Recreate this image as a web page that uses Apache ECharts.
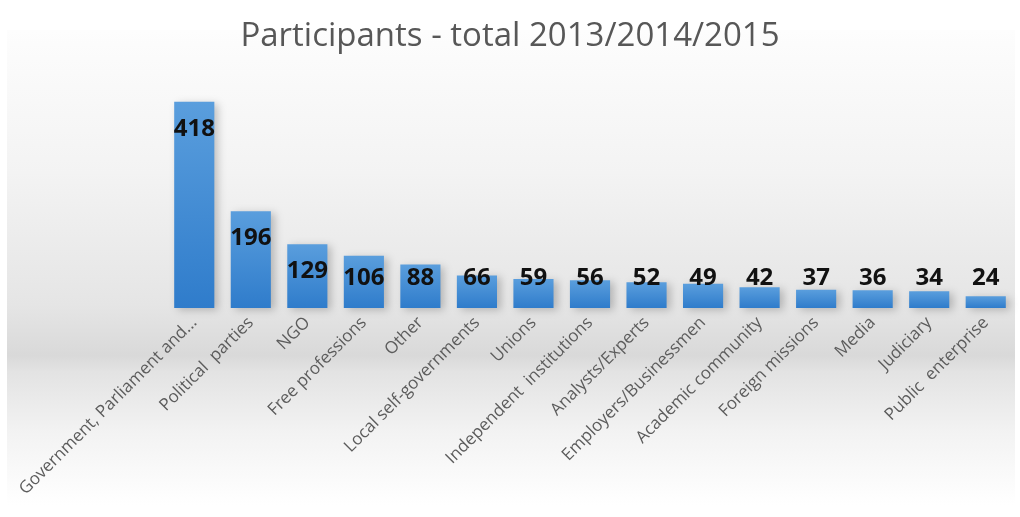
<!DOCTYPE html>
<html>
<head>
<meta charset="utf-8">
<script src="https://cdn.jsdelivr.net/npm/echarts@6/dist/echarts.min.js"></script>
<style>
  html, body { margin: 0; padding: 0; background: #ffffff; }
  #chart { width: 1020px; height: 517px; }
</style>
</head>
<body>
<div id="chart"></div>
<script>
// Participant groups and their totals over 2013–2015
const categories = [
  'Government, Parliament and...', 'Political  parties', 'NGO', 'Free professions', 'Other',
  'Local self-governments', 'Unions', 'Independent  institutions', 'Analysts/Experts',
  'Employers/Businessmen', 'Academic community', 'Foreign missions', 'Media', 'Judiciary',
  'Public  enterprise'
];
const participants = [418, 196, 129, 106, 88, 66, 59, 56, 52, 49, 42, 37, 36, 34, 24];
const titleText = 'Participants - total 2013/2014/2015';

const chart = echarts.init(document.getElementById('chart'), null, { renderer: 'canvas' });

const barGradient = new echarts.graphic.LinearGradient(0, 0, 0, 1, [
  { offset: 0, color: '#5a9edd' },
  { offset: 1, color: '#2f7ccb' }
]);

const option = {
  animation: false,
  backgroundColor: '#ffffff',
  title: {
    text: titleText,
    left: 'center',
    top: 15,
    textStyle: {
      fontFamily: 'Open Sans',
      fontWeight: 'normal',
      fontSize: 33,
      color: '#575757'
    }
  },
  graphic: [{
    type: 'rect',
    z: -10,
    silent: true,
    shape: { x: 7, y: 30, width: 1008, height: 475 },
    style: {
      fill: new echarts.graphic.LinearGradient(0, 0, 0, 1, [
        { offset: 0.00, color: '#fdfdfd' },
        { offset: 0.30, color: '#f3f3f3' },
        { offset: 0.58, color: '#e5e5e5' },
        { offset: 0.685, color: '#d9d9d9' },
        { offset: 0.72, color: '#e3e3e3' },
        { offset: 0.85, color: '#f3f3f3' },
        { offset: 1.00, color: '#ffffff' }
      ])
    }
  }],
  grid: { left: 166, right: 6, top: 86, bottom: 209 },
  xAxis: {
    type: 'category',
    data: categories,
    axisLine: { show: false },
    axisTick: { show: false },
    axisLabel: {
      rotate: 45,
      interval: 0,
      margin: 12,
      fontFamily: 'Open Sans',
      fontSize: 17,
      color: '#5c5c5c'
    }
  },
  yAxis: {
    type: 'value',
    min: 0,
    max: 450,
    show: false,
    splitLine: { show: false }
  },
  series: [{
    type: 'bar',
    data: participants,
    barWidth: '71%',
    itemStyle: {
      color: barGradient,
      shadowColor: 'rgba(0,0,0,0.22)',
      shadowBlur: 8,
      shadowOffsetX: 4,
      shadowOffsetY: 2
    },
    label: {
      show: true,
      position: 'top',
      distance: 0,
      verticalAlign: 'middle',
      fontFamily: 'Open Sans',
      fontWeight: 'bold',
      fontSize: 24,
      color: '#111111'
    }
  }]
};

chart.setOption(option);

// Value labels sit just inside the top of each bar, but never lower than a
// fixed line above the baseline, so short bars carry their label above them.
const baseY = chart.convertToPixel({ yAxisIndex: 0 }, 0);
const floorY = baseY - 30;
const insideDepth = 27;
const labelled = participants.map(v => {
  const topY = chart.convertToPixel({ yAxisIndex: 0 }, v);
  const centerY = Math.min(topY + insideDepth, floorY);
  return { value: v, label: { offset: [0, centerY - topY] } };
});
chart.setOption({ series: [{ data: labelled }] });
</script>
</body>
</html>
